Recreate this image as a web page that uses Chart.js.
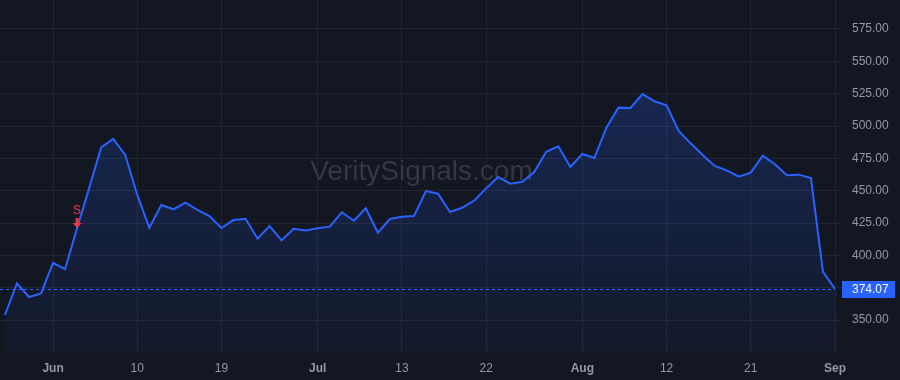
<!DOCTYPE html>
<html>
<head>
<meta charset="utf-8">
<script src="https://cdn.jsdelivr.net/npm/chart.js@4.4.1/dist/chart.umd.min.js"></script>
<style>
  html, body { margin: 0; padding: 0; background: #131722; }
  canvas { display: block; }
</style>
</head>
<body>
<canvas id="priceChart" width="900" height="380"></canvas>
<script>
// daily closes, trading days 26 May - 1 Sep
var closes = [
  353.9, 378.4, 367.8, 370.6, 394.1, 389.4, 421.1, 452.0, 483.5, 490.0,
  477.6, 446.7, 421.4, 438.9, 435.6, 440.7, 435.1, 430.4, 421.1, 427.3,
  428.3, 412.9, 422.7, 411.6, 420.6, 419.3, 420.9, 422.2, 433.3, 426.8,
  436.4, 417.5, 428.1, 429.9, 430.4, 449.7, 447.7, 433.5, 436.8, 442.3,
  451.8, 460.6, 455.4, 456.9, 464.4, 480.1, 484.3, 468.3, 478.4, 475.3,
  498.7, 514.2, 513.9, 524.7, 519.1, 516.0, 496.1, 486.6, 477.6, 469.1,
  465.7, 460.8, 463.9, 477.0, 470.4, 461.9, 462.4, 459.8, 387.3, 374.07
];
var tickIdx = [4, 11, 18, 26, 33, 40, 48, 55, 62, 69];
var tickText = ['Jun', '10', '19', 'Jul', '13', '22', 'Aug', '12', '21', 'Sep'];
var monthTicks = ['Jun', 'Jul', 'Aug', 'Sep'];
var signalIdx = [6];
var signalText = ['S'];
var watermark = 'VeritySignals.com';

var lineBlue = '#2962ff';
var gridCol = '#232632';
var textCol = '#9598a1';

Chart.defaults.font.family = '"Liberation Sans", Arial, sans-serif';
Chart.defaults.font.size = 12;

var points = closes.map(function (v, i) { return { x: i, y: v }; });
var lastValue = closes[closes.length - 1];

var overlay = {
  id: 'overlay',
  beforeDatasetsDraw: function (chart) {
    var ctx = chart.ctx, a = chart.chartArea;
    ctx.save();
    ctx.font = '28px "Liberation Sans", Arial, sans-serif';
    ctx.fillStyle = '#343844';
    ctx.textAlign = 'center';
    ctx.textBaseline = 'middle';
    ctx.fillText(watermark, (a.left + a.right) / 2 + 4, (a.top + a.bottom) / 2 - 4);
    ctx.restore();
  },
  afterDatasetsDraw: function (chart) {
    var ctx = chart.ctx, a = chart.chartArea;
    var xs = chart.scales.x, ys = chart.scales.y;
    var yl = Math.round(ys.getPixelForValue(lastValue)) + 0.5;
    ctx.save();
    // last price line
    ctx.strokeStyle = lineBlue;
    ctx.lineWidth = 1;
    ctx.setLineDash([3, 3]);
    ctx.beginPath();
    ctx.moveTo(a.left, yl);
    ctx.lineTo(a.right, yl);
    ctx.stroke();
    ctx.setLineDash([]);
    // signal markers
    signalIdx.forEach(function (idx, k) {
      var px = xs.getPixelForValue(idx);
      var py = ys.getPixelForValue(closes[idx]);
      ctx.fillStyle = '#f23645';
      ctx.fillRect(px - 1.5, py - 10, 3, 5);
      ctx.beginPath();
      ctx.moveTo(px - 4.5, py - 5);
      ctx.lineTo(px + 4.5, py - 5);
      ctx.lineTo(px, py);
      ctx.closePath();
      ctx.fill();
      ctx.font = '12px "Liberation Sans", Arial, sans-serif';
      ctx.textAlign = 'center';
      ctx.textBaseline = 'middle';
      ctx.fillText(signalText[k], px, py - 17);
    });
    // last price label
    ctx.fillStyle = lineBlue;
    ctx.fillRect(a.right + 7, yl - 8.5, 53, 17);
    ctx.fillStyle = '#ffffff';
    ctx.font = '12px "Liberation Sans", Arial, sans-serif';
    ctx.textAlign = 'left';
    ctx.textBaseline = 'middle';
    ctx.fillText(lastValue.toFixed(2), a.right + 17, yl);
    ctx.restore();
  }
};

new Chart(document.getElementById('priceChart'), {
  type: 'line',
  data: {
    datasets: [{
      data: points,
      borderColor: lineBlue,
      borderWidth: 2,
      tension: 0,
      pointRadius: 0,
      fill: 'start',
      backgroundColor: function (c) {
        var a = c.chart.chartArea;
        if (!a) return 'rgba(41,98,255,0.15)';
        var g = c.chart.ctx.createLinearGradient(0, a.top, 0, a.bottom);
        g.addColorStop(0, 'rgba(41,98,255,0.28)');
        g.addColorStop(1, 'rgba(41,98,255,0.04)');
        return g;
      }
    }]
  },
  options: {
    responsive: false,
    animation: false,
    layout: { padding: 0 },
    plugins: { legend: { display: false }, tooltip: { enabled: false } },
    scales: {
      x: {
        type: 'linear',
        min: -0.41,
        max: 69,
        afterBuildTicks: function (s) {
          s.ticks = tickIdx.map(function (v) { return { value: v }; });
        },
        afterFit: function (s) {
          s.height = 28;
          s.paddingLeft = 0;
          s.paddingRight = 0;
        },
        grid: { color: gridCol, drawTicks: false },
        border: { display: false },
        ticks: {
          padding: 9,
          color: textCol,
          maxRotation: 0,
          autoSkip: false,
          callback: function (v) {
            var k = tickIdx.indexOf(v);
            return k < 0 ? '' : tickText[k];
          },
          font: function (c) {
            var k = c.tick ? tickIdx.indexOf(c.tick.value) : -1;
            var bold = k >= 0 && monthTicks.indexOf(tickText[k]) >= 0;
            return { size: 12, weight: bold ? 'bold' : 'normal' };
          }
        }
      },
      y: {
        position: 'right',
        min: 325.3,
        max: 597.4,
        afterBuildTicks: function (s) {
          s.ticks = s.ticks.filter(function (t) {
            return t.value % 25 === 0 && t.value >= 350 && t.value <= 575;
          });
        },
        afterFit: function (s) {
          s.width = 65;
          s.paddingTop = 0;
          s.paddingBottom = 0;
        },
        grid: { color: gridCol, tickLength: 7 },
        border: { display: true, color: gridCol },
        ticks: {
          stepSize: 25,
          padding: 10,
          color: textCol,
          callback: function (v) { return Number(v).toFixed(2); }
        }
      }
    }
  },
  plugins: [overlay]
});
</script>
</body>
</html>
